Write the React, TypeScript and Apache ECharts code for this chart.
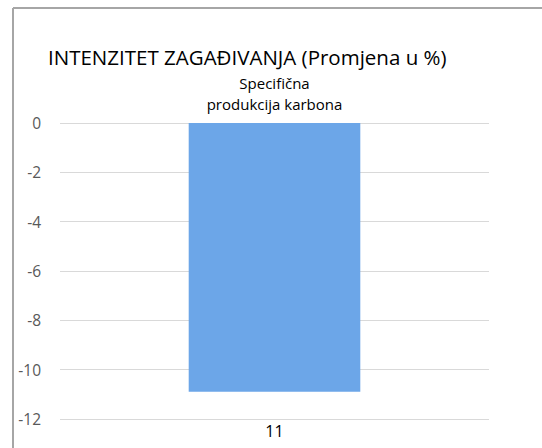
import React, { useEffect, useRef } from "react";
import * as echarts from "echarts";

const categories = ["11"];
const topLabelsLine1 = ["Specifična"];
const topLabelsLine2 = ["produkcija karbona"];
const values = [-10.9];
const titleText = "INTENZITET ZAGAĐIVANJA (Promjena u %)";

export default function App() {
  const ref = useRef<HTMLDivElement>(null);
  useEffect(() => {
    if (!ref.current) return;
    const chart = echarts.init(ref.current, null, { renderer: "svg" });
    const font = "'Open Sans', sans-serif";
    const topAxis = (data: string[], margin: number) => ({
      type: "category",
      data,
      position: "top",
      axisLine: { show: false },
      axisTick: { show: false },
      splitLine: { show: false },
      axisLabel: { fontFamily: font, fontSize: 15, color: "#000000", margin, lineHeight: 15 },
    });
    chart.setOption({
      animation: false,
      backgroundColor: "#ffffff",
      title: {
        text: titleText,
        left: 43,
        top: 41,
        textStyle: { fontFamily: font, fontSize: 20.5, fontWeight: "normal", color: "#000000" },
      },
      grid: { left: 60, right: 53, top: 123, bottom: 29 },
      xAxis: [
        {
          type: "category",
          data: categories,
          position: "bottom",
          axisLine: { show: false },
          axisTick: { show: false },
          axisLabel: { fontFamily: font, fontSize: 16, color: "#000000", margin: 4 },
        },
        topAxis(topLabelsLine1, 33),
        topAxis(topLabelsLine2, 12),
      ],
      yAxis: {
        type: "value",
        min: -12,
        max: 0,
        interval: 2,
        axisLine: { show: false },
        axisTick: { show: false },
        splitLine: { lineStyle: { color: "#d9d9d9", width: 1 } },
        axisLabel: { fontFamily: font, fontSize: 15.5, color: "#595959", margin: 19 },
      },
      series: [
        {
          type: "bar",
          data: values,
          barWidth: "40%",
          itemStyle: { color: "#6ca6e8" },
        },
      ],
      graphic: [
        { type: "line", shape: { x1: 13, y1: 8, x2: 542, y2: 8 }, style: { stroke: "#a6a6a6", lineWidth: 2 } },
        { type: "line", shape: { x1: 13, y1: 8, x2: 13, y2: 448 }, style: { stroke: "#a6a6a6", lineWidth: 2 } },
      ],
    });
    return () => chart.dispose();
  }, []);
  return (
    <div style={{ position: "fixed", left: 0, top: 0, width: 542, height: 448 }}>
      <div ref={ref} style={{ width: 542, height: 448 }} />
    </div>
  );
}
